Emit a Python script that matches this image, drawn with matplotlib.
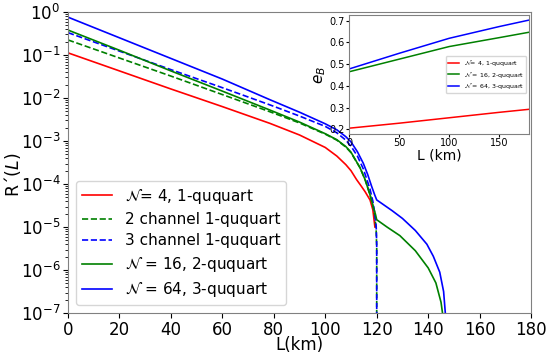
import numpy as np
import matplotlib
matplotlib.use("Agg")
import matplotlib.pyplot as plt

# main panel: key rate, stored as log10 values
red_L = [0, 20, 40, 60, 78.5, 90, 100, 104.5, 108, 110, 112.2, 114, 115.5, 117.4, 118.5, 119.3]
red_log = [-0.95, -1.37, -1.79, -2.20, -2.59, -2.86, -3.15, -3.35, -3.55, -3.69, -3.90, -4.05, -4.18, -4.37, -4.6, -5.0]

ch2_L = [0, 20, 40, 60, 78.5, 90, 100, 104.5, 108, 110, 113.5, 115.5, 117.4, 118.5, 119.3, 119.8, 120, 120]
ch2_log = [-0.65, -1.07, -1.49, -1.92, -2.32, -2.58, -2.84, -2.98, -3.14, -3.27, -3.62, -3.90, -4.25, -4.5, -4.75, -5.1, -5.5, -8]

ch3_L = [0, 20, 40, 60, 78.5, 90, 100, 104.5, 108, 110, 112.5, 114.8, 116.2, 117.4, 118.5, 119.3, 119.8, 120, 120]
ch3_log = [-0.48, -0.91, -1.34, -1.76, -2.16, -2.42, -2.66, -2.81, -2.98, -3.12, -3.35, -3.65, -3.9, -4.12, -4.4, -4.7, -5.0, -5.4, -8]

n16_L = [0, 20, 40, 60, 78.5, 90, 100, 104.5, 108, 110, 113.5, 115.5, 117.4, 118.5, 119.5, 120,
         124, 129, 135, 140, 143, 145, 145.8]
n16_log = [-0.42, -0.89, -1.37, -1.84, -2.28, -2.56, -2.83, -2.97, -3.13, -3.26, -3.62, -3.90, -4.25, -4.5, -4.7, -4.83,
           -5.0, -5.2, -5.55, -5.95, -6.3, -6.75, -7.1]

n64_L = [0, 20, 40, 60, 78.5, 90, 100, 104.5, 108, 110, 112.5, 114.8, 116.5, 118, 119.2, 120,
         126, 130, 135, 139.5, 142, 144.5, 146, 146.8]
n64_log = [-0.12, -0.60, -1.08, -1.56, -2.04, -2.33, -2.60, -2.74, -2.90, -3.02, -3.25, -3.52, -3.78, -4.05, -4.25, -4.37,
           -4.62, -4.80, -5.08, -5.40, -5.68, -6.05, -6.5, -7.1]

# inset: e_B against distance
inset_L = [0, 50, 100, 150, 180]
eb_n4 = [0.205, 0.228, 0.253, 0.278, 0.292]
eb_n16 = [0.465, 0.523, 0.581, 0.622, 0.647]
eb_n64 = [0.478, 0.550, 0.619, 0.673, 0.703]


def lin(v):
    return 10.0 ** np.array(v)


fig = plt.figure(figsize=(5.5, 3.59), dpi=100)
ax = fig.add_axes([0.1236, 0.128, 0.842, 0.8386])

ax.semilogy(red_L, lin(red_log), color="red", lw=1.2, label=r"$\mathcal{N}$= 4, 1-ququart")
ax.semilogy(ch2_L, lin(ch2_log), color="green", lw=1.2, ls="--", label="2 channel 1-ququart")
ax.semilogy(ch3_L, lin(ch3_log), color="blue", lw=1.2, ls="--", label="3 channel 1-ququart")
ax.semilogy(n16_L, lin(n16_log), color="green", lw=1.2, label=r"$\mathcal{N}$ = 16, 2-ququart")
ax.semilogy(n64_L, lin(n64_log), color="blue", lw=1.2, label=r"$\mathcal{N}$ = 64, 3-ququart")

ax.set_xlim(0, 180)
ax.set_ylim(1e-7, 1)
ax.set_xticks(np.arange(0, 181, 20))
ax.tick_params(labelsize=12, pad=2)
ax.set_xlabel("L(km)", fontsize=12)
ax.xaxis.set_label_coords(0.5, -0.075)
ax.set_ylabel("R\u00b4($L$)", fontsize=12.5)
ax.yaxis.set_label_coords(-0.098, 0.46)
for s in ax.spines.values():
    s.set_color("#808080")
ax.legend(loc="lower left", fontsize=11, labelspacing=0.42, framealpha=0.8)

ins = fig.add_axes([0.635, 0.626, 0.327, 0.332])
ins.plot(inset_L, eb_n4, color="red", lw=1.1, label=r"$\mathcal{N}$= 4, 1-ququart")
ins.plot(inset_L, eb_n16, color="green", lw=1.1, label=r"$\mathcal{N}$ = 16, 2-ququart")
ins.plot(inset_L, eb_n64, color="blue", lw=1.1, label=r"$\mathcal{N}$ = 64, 3-ququart")
ins.set_xlim(0, 180)
ins.set_ylim(0.177, 0.726)
ins.set_xticks([0, 50, 100, 150])
ins.set_yticks([0.2, 0.3, 0.4, 0.5, 0.6, 0.7])
ins.tick_params(labelsize=7, length=2, pad=1)
ins.set_xlabel("L (km)", fontsize=10, labelpad=0)
ins.set_ylabel(r"$e_B$", fontsize=11, labelpad=1)
for s in ins.spines.values():
    s.set_color("#808080")
ins.legend(loc="center right", fontsize=4.5, labelspacing=0.25, handlelength=1.8,
           borderpad=0.3, framealpha=0.8)

fig.savefig("out.png", dpi=100)
